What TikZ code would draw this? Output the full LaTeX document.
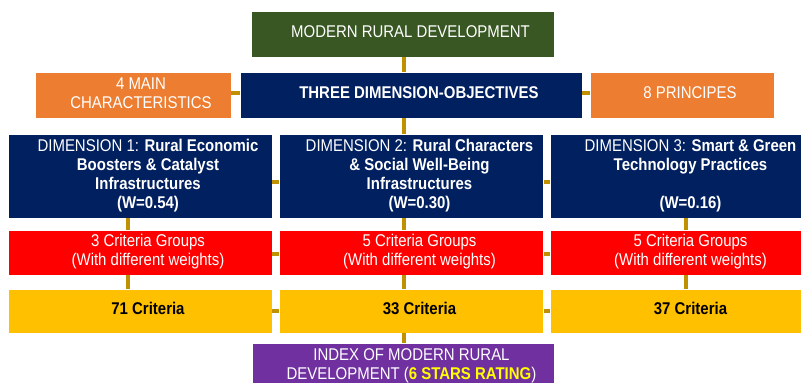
\documentclass[tikz,border=0pt]{standalone}
\usepackage{fontspec}
\setmainfont[FakeStretch=0.88]{Liberation Sans}
\usepackage{xcolor}
\usepackage{tikz}
\definecolor{mr_green}{HTML}{385723}
\definecolor{mr_navy}{HTML}{002060}
\definecolor{mr_orange}{HTML}{ED7D31}
\definecolor{mr_red}{HTML}{FF0000}
\definecolor{mr_yellow}{HTML}{FFC000}
\definecolor{mr_purple}{HTML}{7030A0}
\definecolor{mr_gold}{HTML}{BF9000}
\definecolor{mr_star}{HTML}{FFFF00}
\newcommand{\celltxt}[1]{\hspace*{16pt}\begin{tabular}{@{}c@{}}#1\end{tabular}}
\tikzstyle{mr_box} = [rectangle, draw=white, line width=0.5pt, inner sep=0pt, text=white, font=\fontsize{17}{19}\selectfont]
\tikzstyle{mr_top} = [mr_box, fill=mr_green, minimum width=303pt, minimum height=46pt]
\tikzstyle{mr_side} = [mr_box, fill=mr_orange, minimum height=46pt]
\tikzstyle{mr_obj} = [mr_box, fill=mr_navy, minimum width=342pt, minimum height=46pt]
\tikzstyle{mr_dim} = [mr_box, fill=mr_navy, minimum width=264pt, minimum height=84pt]
\tikzstyle{mr_grp} = [mr_box, fill=mr_red, minimum width=264pt, minimum height=45pt]
\tikzstyle{mr_crit} = [mr_box, fill=mr_yellow, text=black, minimum width=264pt, minimum height=44pt]
\tikzstyle{mr_idx} = [mr_box, fill=mr_purple, minimum width=302pt, minimum height=46pt]
\tikzstyle{mr_link} = [draw=mr_gold, line width=4pt]

\begin{document}
\begin{tikzpicture}[x=1pt,y=-1pt]
\useasboundingbox (0,0) rectangle (801,383);
\clip (0,0) rectangle (801,383);
\coordinate (sp) at (404,0);
\coordinate (cA) at (128,0);
\coordinate (cC) at (686,0);

\node [mr_top] (top) at (402.5,34) {\celltxt{MODERN RURAL DEVELOPMENT}};
\node [mr_side, minimum width=196pt] (chars) at (133,95) {\celltxt{4 MAIN\\ CHARACTERISTICS}};
\node [mr_obj] (obj) at (411,95) {\celltxt{\bfseries THREE DIMENSION-OBJECTIVES}};
\node [mr_side, minimum width=184pt] (princ) at (682,95) {\celltxt{8 PRINCIPES}};

\node [mr_dim] (dimA) at (140,176) {\celltxt{DIMENSION 1: \textbf{Rural Economic}\\ \textbf{Boosters \& Catalyst}\\ \textbf{Infrastructures}\\ \textbf{(W=0.54)}}};
\node [mr_dim] (dimB) at (411.5,176) {\celltxt{DIMENSION 2: \textbf{Rural Characters}\\ \textbf{\& Social Well-Being}\\ \textbf{Infrastructures}\\ \textbf{(W=0.30)}}};
\node [mr_dim] (dimC) at (682.5,176) {\celltxt{DIMENSION 3: \textbf{Smart \& Green}\\ \textbf{Technology Practices}\\ \mbox{}\\ \textbf{(W=0.16)}}};

\node [mr_grp] (grpA) at (140,252.5) {\celltxt{3 Criteria Groups\\ (With different weights)}};
\node [mr_grp] (grpB) at (411.5,252.5) {\celltxt{5 Criteria Groups\\ (With different weights)}};
\node [mr_grp] (grpC) at (682.5,252.5) {\celltxt{5 Criteria Groups\\ (With different weights)}};

\node [mr_crit] (critA) at (140,311) {\celltxt{\bfseries 71 Criteria}};
\node [mr_crit] (critB) at (411.5,311) {\celltxt{\bfseries 33 Criteria}};
\node [mr_crit] (critC) at (682.5,311) {\celltxt{\bfseries 37 Criteria}};

\node [mr_idx] (idx) at (403.5,366) {\celltxt{INDEX OF MODERN RURAL\\ DEVELOPMENT ({\bfseries\color{mr_star}6 STARS RATING})}};

\draw [mr_link] (top.south -| sp) -- (obj.north -| sp);
\draw [mr_link] ([yshift=2pt]chars.east) -- ([yshift=2pt]obj.west);
\draw [mr_link] ([yshift=2pt]obj.east) -- ([yshift=2pt]princ.west);
\draw [mr_link] (obj.south -| sp) -- (dimB.north -| sp);
\draw [mr_link] ([yshift=-6pt]dimA.east) -- ([yshift=-6pt]dimB.west);
\draw [mr_link] ([yshift=-6pt]dimB.east) -- ([yshift=-6pt]dimC.west);
\draw [mr_link] (dimA.south -| cA) -- (grpA.north -| cA);
\draw [mr_link] (dimB.south -| sp) -- (grpB.north -| sp);
\draw [mr_link] (dimC.south -| cC) -- (grpC.north -| cC);
\draw [mr_link] ([yshift=-1.5pt]grpA.east) -- ([yshift=-1.5pt]grpB.west);
\draw [mr_link] ([yshift=-1.5pt]grpB.east) -- ([yshift=-1.5pt]grpC.west);
\draw [mr_link] (grpA.south -| cA) -- (critA.north -| cA);
\draw [mr_link] (grpB.south -| sp) -- (critB.north -| sp);
\draw [mr_link] (grpC.south -| cC) -- (critC.north -| cC);
\draw [mr_link] (critA.east) -- (critB.west);
\draw [mr_link] (critB.east) -- (critC.west);
\draw [mr_link] (critB.south -| sp) -- (idx.north -| sp);
\end{tikzpicture}
\end{document}
